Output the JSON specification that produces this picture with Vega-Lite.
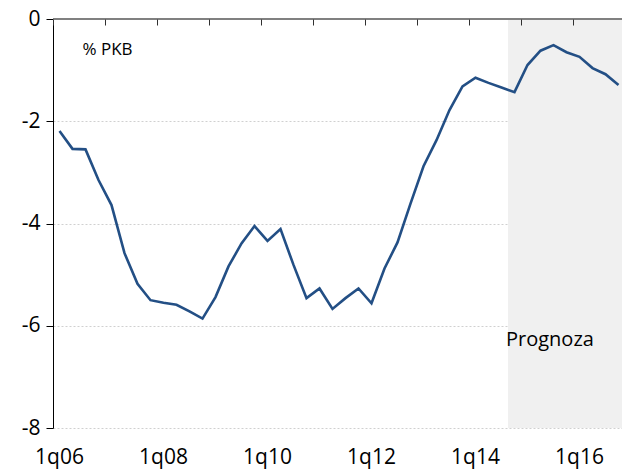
{
  "$schema": "https://vega.github.io/schema/vega-lite/v6.json",
  "width": 572,
  "height": 409,
  "autosize": {"type": "none"},
  "padding": {"left": 53, "top": 19, "right": 0, "bottom": 48},
  "background": "white",
  "config": {
    "view": {"stroke": null},
    "font": "Open Sans",
    "axis": {"labelFont": "Open Sans", "labelColor": "#000000"},
    "axisY": {
      "title": null, "tickCount": 4,
      "labelExpr": "replace(datum.label, '\u2212', '-')",
      "labelFontSize": 21, "labelPadding": 6,
      "domainColor": "#000000", "domainWidth": 1,
      "ticks": true, "tickColor": "#000000", "tickSize": 7, "tickWidth": 1,
      "grid": true, "gridColor": "#d0d0d0", "gridDash": [2, 2], "gridWidth": 1
    }
  },
  "data": {
    "values": [
      {"q": "1q06", "v": -2.19, "forecast": false},
      {"q": "2q06", "v": -2.54, "forecast": false},
      {"q": "3q06", "v": -2.55, "forecast": false},
      {"q": "4q06", "v": -3.15, "forecast": false},
      {"q": "1q07", "v": -3.64, "forecast": false},
      {"q": "2q07", "v": -4.58, "forecast": false},
      {"q": "3q07", "v": -5.18, "forecast": false},
      {"q": "4q07", "v": -5.50, "forecast": false},
      {"q": "1q08", "v": -5.55, "forecast": false},
      {"q": "2q08", "v": -5.59, "forecast": false},
      {"q": "3q08", "v": -5.72, "forecast": false},
      {"q": "4q08", "v": -5.86, "forecast": false},
      {"q": "1q09", "v": -5.44, "forecast": false},
      {"q": "2q09", "v": -4.84, "forecast": false},
      {"q": "3q09", "v": -4.39, "forecast": false},
      {"q": "4q09", "v": -4.05, "forecast": false},
      {"q": "1q10", "v": -4.34, "forecast": false},
      {"q": "2q10", "v": -4.11, "forecast": false},
      {"q": "3q10", "v": -4.81, "forecast": false},
      {"q": "4q10", "v": -5.46, "forecast": false},
      {"q": "1q11", "v": -5.27, "forecast": false},
      {"q": "2q11", "v": -5.67, "forecast": false},
      {"q": "3q11", "v": -5.46, "forecast": false},
      {"q": "4q11", "v": -5.27, "forecast": false},
      {"q": "1q12", "v": -5.56, "forecast": false},
      {"q": "2q12", "v": -4.88, "forecast": false},
      {"q": "3q12", "v": -4.37, "forecast": false},
      {"q": "4q12", "v": -3.61, "forecast": false},
      {"q": "1q13", "v": -2.88, "forecast": false},
      {"q": "2q13", "v": -2.37, "forecast": false},
      {"q": "3q13", "v": -1.78, "forecast": false},
      {"q": "4q13", "v": -1.32, "forecast": false},
      {"q": "1q14", "v": -1.15, "forecast": false},
      {"q": "2q14", "v": -1.25, "forecast": false},
      {"q": "3q14", "v": -1.34, "forecast": false},
      {"q": "4q14", "v": -1.43, "forecast": true},
      {"q": "1q15", "v": -0.90, "forecast": true},
      {"q": "2q15", "v": -0.62, "forecast": true},
      {"q": "3q15", "v": -0.51, "forecast": true},
      {"q": "4q15", "v": -0.65, "forecast": true},
      {"q": "1q16", "v": -0.74, "forecast": true},
      {"q": "2q16", "v": -0.96, "forecast": true},
      {"q": "3q16", "v": -1.08, "forecast": true},
      {"q": "4q16", "v": -1.29, "forecast": true}
    ]
  },
  "resolve": {"axis": {"x": "independent"}},
  "layer": [
    {
      "transform": [{"filter": "datum.forecast"}],
      "mark": {"type": "bar", "color": "#f0f0f0"},
      "encoding": {
        "x": {
          "field": "q", "type": "ordinal",
          "scale": {"type": "band", "paddingInner": 0, "paddingOuter": 0,
            "domain": ["1q06","2q06","3q06","4q06","1q07","2q07","3q07","4q07","1q08","2q08","3q08","4q08","1q09","2q09","3q09","4q09","1q10","2q10","3q10","4q10","1q11","2q11","3q11","4q11","1q12","2q12","3q12","4q12","1q13","2q13","3q13","4q13","1q14","2q14","3q14","4q14","1q15","2q15","3q15","4q15","1q16","2q16","3q16","4q16"]},
          "axis": {
            "orient": "top", "title": null, "labels": false, "zindex": 1,
            "values": ["1q06","1q07","1q08","1q09","1q10","1q11","1q12","1q13","1q14","1q15","1q16"],
            "bandPosition": 0, "offset": -6, "domain": false,
            "tickColor": "#303030", "tickSize": 6, "tickWidth": 1, "grid": false
          }
        },
        "y": {
          "datum": -8, "type": "quantitative",
          "scale": {"domain": [-8, 0], "nice": false}
        },
        "y2": {"datum": 0}
      }
    },
    {
      "mark": {"type": "rule", "color": "#808080", "strokeWidth": 1.5},
      "encoding": {"y": {"datum": 0}}
    },
    {
      "mark": {"type": "line", "color": "#234f85", "strokeWidth": 2.6},
      "encoding": {
        "x": {
          "field": "q", "type": "ordinal", "bandPosition": 0.5,
          "axis": {
            "orient": "bottom", "title": null, "domain": false, "ticks": false,
            "values": ["1q06","1q08","1q10","1q12","1q14","1q16"],
            "labelAngle": 0, "labelFontSize": 21, "labelPadding": 18, "grid": false
          }
        },
        "y": {"field": "v", "type": "quantitative"}
      }
    },
    {
      "data": {"values": [{}]},
      "mark": {"type": "text", "text": "% PKB", "align": "left", "baseline": "middle", "fontSize": 17, "color": "#000000", "dx": -3},
      "encoding": {
        "x": {"datum": "3q06", "bandPosition": 0.5, "axis": null},
        "y": {"datum": -0.61}
      }
    },
    {
      "data": {"values": [{}]},
      "mark": {"type": "text", "text": "Prognoza", "align": "left", "baseline": "middle", "fontSize": 20, "color": "#000000", "dx": -2},
      "encoding": {
        "x": {"datum": "4q14", "bandPosition": 0, "axis": null},
        "y": {"datum": -6.28}
      }
    }
  ]
}
